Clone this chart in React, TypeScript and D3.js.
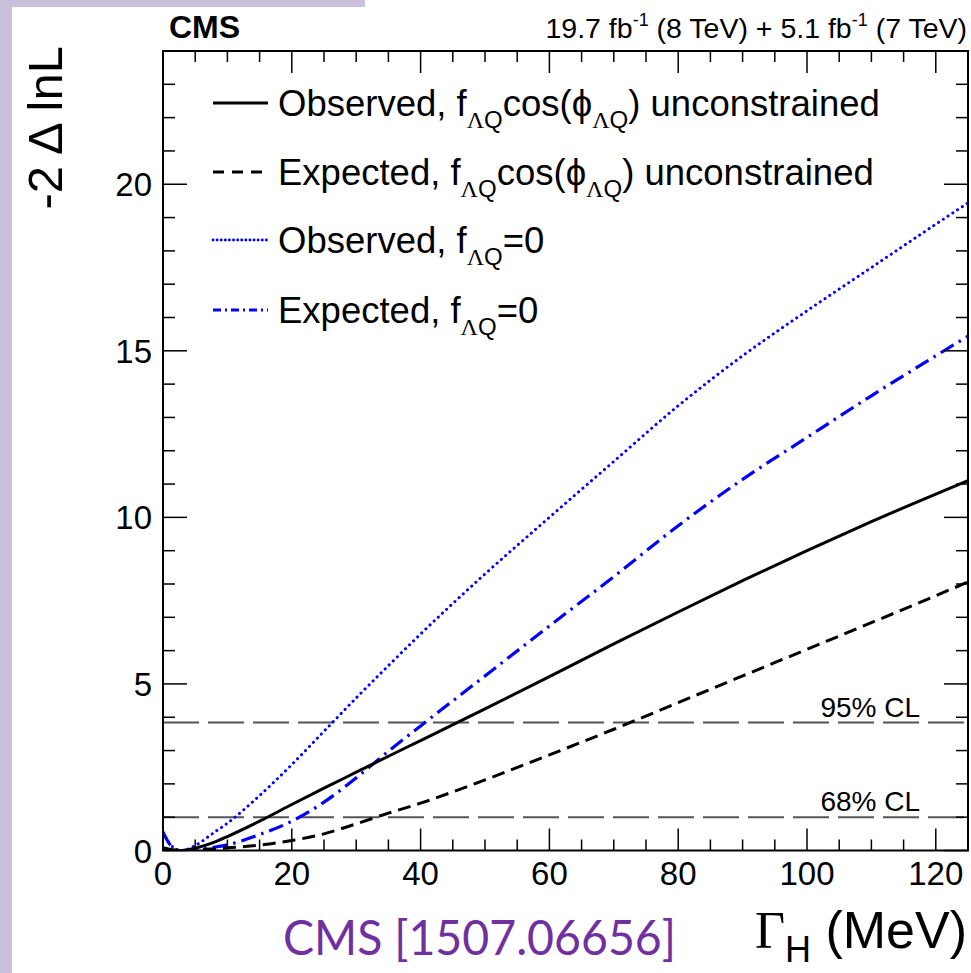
import React from "react";
import * as d3 from "d3";

// Higgs width scan: -2 Delta lnL vs Gamma_H (MeV)
const gammaMeV = [0, 1, 2, 3, 5, 8, 10, 15, 20, 25, 30, 35, 40, 50, 60, 70, 80, 90, 100, 110, 120, 125];

const obsUnconstrained = [0.08, 0.04, 0.01, 0.0, 0.07, 0.25, 0.42, 0.88, 1.38, 1.87, 2.35, 2.83, 3.3, 4.25, 5.22, 6.2, 7.16, 8.1, 9.0, 9.87, 10.7, 11.1];
const expUnconstrained = [0.0, 0.0, 0.0, 0.0, 0.02, 0.05, 0.08, 0.16, 0.3, 0.5, 0.8, 1.12, 1.42, 2.12, 2.87, 3.64, 4.44, 5.24, 6.04, 6.84, 7.65, 8.06];
const obsFLQZero = [0.55, 0.22, 0.04, 0.0, 0.15, 0.55, 0.82, 1.65, 2.58, 3.58, 4.58, 5.55, 6.5, 8.3, 10.0, 11.68, 13.35, 14.85, 16.2, 17.5, 18.8, 19.44];
const expFLQZero = [0.55, 0.2, 0.03, 0.0, 0.02, 0.1, 0.17, 0.48, 0.88, 1.45, 2.18, 2.98, 3.74, 5.24, 6.74, 8.22, 9.75, 11.14, 12.4, 13.65, 14.85, 15.44];

const xMajorTicks = [0, 20, 40, 60, 80, 100, 120];
const yMajorTicks = [0, 5, 10, 15, 20];
const clLevels = [
  { value: 1.0, label: "68% CL" },
  { value: 3.84, label: "95% CL" },
];

const FONT = "'Liberation Sans', Arial, Helvetica, sans-serif";

type Series = {
  values: number[];
  color: string;
  width: number;
  dash: string;
  cap: "butt" | "round";
};

const series: Series[] = [
  { values: obsFLQZero, color: "#0000ff", width: 3, dash: "0.1 5.6", cap: "round" },
  { values: expFLQZero, color: "#0000ff", width: 3.2, dash: "15 6 2.5 6", cap: "butt" },
  { values: expUnconstrained, color: "#000000", width: 3, dash: "13 7", cap: "butt" },
  { values: obsUnconstrained, color: "#000000", width: 3, dash: "", cap: "butt" },
];

export default function App() {
  const W = 971;
  const H = 973;
  const left = 163;
  const right = 968;
  const top = 51;
  const bottom = 850.5;

  const x = d3.scaleLinear().domain([0, 125]).range([left, right]);
  const y = d3.scaleLinear().domain([0, 24]).range([bottom, top]);

  const line = (vals: number[]) =>
    d3
      .line<number>()
      .x((_, i) => x(gammaMeV[i]))
      .y((v) => y(v))
      .curve(d3.curveMonotoneX)(vals) || "";

  const xMinor = d3.range(0, 126, 5);
  const yMinor = d3.range(0, 25, 1);

  const legendRows = [
    { y: 103, color: "#000", width: 3, dash: "", cap: "butt", x2: 268, main: "Observed, f", rest: true },
    { y: 172, color: "#000", width: 3, dash: "11 8", cap: "butt", x2: 265, main: "Expected, f", rest: true },
    { y: 240, color: "#0000ff", width: 2.8, dash: "0.1 4", cap: "round", x2: 268, main: "Observed, f", rest: false },
    { y: 310, color: "#0000ff", width: 3, dash: "8 4 2 4", cap: "butt", x2: 268, main: "Expected, f", rest: false },
  ];

  return (
    <svg width={W} height={H} style={{ display: "block", position: "absolute", left: 0, top: 0 }} fontFamily={FONT}>
      <rect x={0} y={0} width={W} height={H} fill="#ffffff" />
      {/* slide decoration */}
      <rect x={0} y={0} width={12} height={H} fill="#cac0dc" />
      <rect x={0} y={0} width={365} height={7} fill="#cac0dc" />

      <defs>
        <clipPath id="plotArea">
          <rect x={left} y={top} width={right - left} height={bottom - top} />
        </clipPath>
      </defs>

      {/* confidence-level reference lines */}
      {clLevels.map((c) => (
        <g key={c.label}>
          <line x1={left} x2={right} y1={y(c.value)} y2={y(c.value)} stroke="#555" strokeWidth={2} strokeDasharray="36 9" />
          <text x={920} y={y(c.value) - 6} fontSize={28} textAnchor="end" fill="#000">
            {c.label}
          </text>
        </g>
      ))}

      {/* likelihood curves */}
      <g clipPath="url(#plotArea)">
        {series.map((s, i) => (
          <path
            key={i}
            d={line(s.values)}
            fill="none"
            stroke={s.color}
            strokeWidth={s.width}
            strokeDasharray={s.dash || undefined}
            strokeLinecap={s.cap}
          />
        ))}
      </g>

      {/* frame */}
      <rect x={left} y={top} width={right - left} height={bottom - top} fill="none" stroke="#000" strokeWidth={2} />

      {/* x ticks, bottom and top */}
      {xMinor.map((v) => {
        const major = v % 20 === 0;
        const len = major ? 22 : 11;
        return (
          <g key={"xt" + v} stroke="#000" strokeWidth={1.5}>
            <line x1={x(v)} x2={x(v)} y1={bottom} y2={bottom - len} />
            <line x1={x(v)} x2={x(v)} y1={top} y2={top + len} />
          </g>
        );
      })}
      {/* y ticks, left and right */}
      {yMinor.map((v) => {
        const major = v % 5 === 0;
        const len = major ? 24 : 12;
        return (
          <g key={"yt" + v} stroke="#000" strokeWidth={1.5}>
            <line x1={left} x2={left + len} y1={y(v)} y2={y(v)} />
            <line x1={right} x2={right - len} y1={y(v)} y2={y(v)} />
          </g>
        );
      })}

      {/* tick labels */}
      {xMajorTicks.map((v) => (
        <text key={"xl" + v} x={x(v)} y={885} fontSize={33} textAnchor="middle" fill="#000">
          {v}
        </text>
      ))}
      {yMajorTicks.map((v) => (
        <text key={"yl" + v} x={152} y={y(v) + 12} fontSize={33} textAnchor="end" fill="#000">
          {v}
        </text>
      ))}

      {/* axis titles */}
      <text transform="translate(62,46) rotate(-90)" fontSize={49} textAnchor="end" fill="#000">
        -2 Δ lnL
      </text>
      <text x={967} y={948} fontSize={52} textAnchor="end" fill="#000">
        <tspan fontFamily="'Liberation Serif', 'Times New Roman', serif">Γ</tspan>
        <tspan fontSize={36} dy={14}>H</tspan>
        <tspan dy={-14}> (MeV)</tspan>
      </text>

      {/* header */}
      <text x={169} y={38} fontSize={32} fontWeight="bold" fill="#000">
        CMS
      </text>
      <text x={967} y={38} fontSize={28.5} textAnchor="end" fill="#000">
        19.7 fb<tspan fontSize={18} dy={-12}>-1</tspan>
        <tspan dy={12}> (8 TeV) + 5.1 fb</tspan>
        <tspan fontSize={18} dy={-12}>-1</tspan>
        <tspan dy={12}> (7 TeV)</tspan>
      </text>

      {/* legend */}
      {legendRows.map((r, i) => (
        <g key={"lg" + i}>
          <line
            x1={213}
            x2={r.x2}
            y1={r.y}
            y2={r.y}
            stroke={r.color}
            strokeWidth={r.width}
            strokeDasharray={r.dash || undefined}
            strokeLinecap={r.cap as any}
          />
          <text x={278} y={r.y + 13} fontSize={36.5} fill="#000">
            <tspan>{r.main}</tspan>
            <tspan fontSize={24} dy={12}>
              <tspan fontFamily="'Liberation Serif', serif">Λ</tspan>Q
            </tspan>
            {r.rest ? (
              <>
                <tspan dy={-12}>cos(ϕ</tspan>
                <tspan fontSize={24} dy={12}>
                  <tspan fontFamily="'Liberation Serif', serif">Λ</tspan>Q
                </tspan>
                <tspan dy={-12}>) unconstrained</tspan>
              </>
            ) : (
              <tspan dy={-12}>=0</tspan>
            )}
          </text>
        </g>
      ))}

      {/* reference */}
      <text x={283} y={955} fontSize={48} fill="#7030a0" fontFamily="Lato, 'Open Sans', sans-serif" textLength={393} lengthAdjust="spacingAndGlyphs">
        CMS [1507.06656]
      </text>
    </svg>
  );
}
